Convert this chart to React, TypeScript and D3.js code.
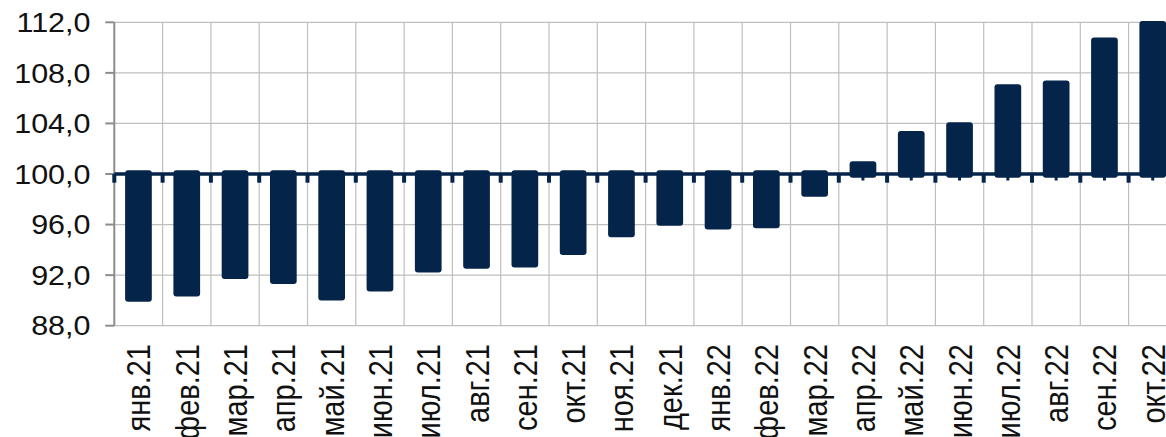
import React from 'react';
import * as d3 from 'd3';

// месяцы и индексы
const categories = [
  'янв.21', 'фев.21', 'мар.21', 'апр.21', 'май.21', 'июн.21', 'июл.21', 'авг.21',
  'сен.21', 'окт.21', 'ноя.21', 'дек.21', 'янв.22', 'фев.22', 'мар.22', 'апр.22',
  'май.22', 'июн.22', 'июл.22', 'авг.22', 'сен.22', 'окт.22'
];
const values = [
  89.9, 90.3, 91.7, 91.3, 90.0, 90.7, 92.2, 92.5,
  92.6, 93.6, 95.0, 95.9, 95.6, 95.7, 98.2, 101.0,
  103.4, 104.1, 107.1, 107.4, 110.8, 112.1
];
const yTicks = [88, 92, 96, 100, 104, 108, 112];
const baseValue = 100;

const W = 1166;
const H = 437;
const left = 114.3;
const step = 48.3;
const top = 22.3;
const bottom = 325.7;
const navy = '#05244a';
const grid = '#bfbfbf';
const axisGray = '#8c8c8c';
const font = '"Liberation Sans", Arial, sans-serif';

export default function App() {
  const x = d3.scaleBand<string>()
    .domain(categories)
    .range([left, left + step * categories.length])
    .padding(0);
  const y = d3.scaleLinear().domain([88, 112]).range([bottom, top]);
  const fmt = (v: number) => d3.format('.1f')(v).replace('.', ',');
  const barW = x.bandwidth() * 0.553;
  const y0 = y(baseValue);
  const over = 3.7;

  const boundaries = d3.range(categories.length + 1).map(i => left + i * step);

  return (
    <svg width={W} height={H} style={{ position: 'absolute', left: 0, top: 0, overflow: 'hidden' }}>
      <rect width={W} height={H} fill="#fff" />
      {/* сетка */}
      <g>
        {yTicks.map(t => (
          <line key={'h' + t} x1={left} x2={W} y1={y(t)} y2={y(t)} stroke={grid} strokeWidth={1.2} />
        ))}
        {boundaries.slice(1).map((b, i) => (
          <line key={'v' + i} x1={b} x2={b} y1={top} y2={bottom} stroke={grid} strokeWidth={1.2} />
        ))}
      </g>
      {/* ось Y */}
      <line x1={left} x2={left} y1={top} y2={bottom} stroke={axisGray} strokeWidth={2} />
      {yTicks.map(t => (
        <g key={'yt' + t}>
          <line x1={left - 9} x2={left} y1={y(t)} y2={y(t)} stroke={axisGray} strokeWidth={2} />
          <text
            transform={`translate(90.5,${y(t) + 9.7}) scale(1.13,1)`}
            textAnchor="end"
            fontFamily={font}
            fontSize={27}
            fill="#111"
          >
            {fmt(t)}
          </text>
        </g>
      ))}
      {/* засечки в центрах категорий */}
      {categories.map(c => (
        <rect key={'ct' + c} x={x(c)! + x.bandwidth() / 2 - 1.5} y={y0} width={3} height={6.5} fill={navy} />
      ))}
      {/* столбцы */}
      {categories.map((c, i) => {
        const v = values[i];
        const cx = x(c)! + x.bandwidth() / 2;
        const y1 = v < baseValue ? y0 - over : y(v);
        const y2 = v < baseValue ? y(v) : y0 + over;
        return (
          <rect key={'b' + c} x={cx - barW / 2} y={y1} width={barW} height={y2 - y1} rx={3} ry={3} fill={navy} />
        );
      })}
      {/* линия 100 */}
      <line x1={left} x2={W} y1={y0} y2={y0} stroke={navy} strokeWidth={3.4} />
      {boundaries.map((b, i) => (
        <rect key={'bt' + i} x={b - 2} y={y0} width={4} height={8.7} fill={navy} />
      ))}
      {/* подписи категорий */}
      {categories.map(c => (
        <text
          key={'xl' + c}
          transform={`translate(${x(c)! + x.bandwidth() / 2},344) scale(1.15,1) rotate(-90)`}
          textAnchor="end"
          dy="0.36em"
          fontFamily={font}
          fontSize={29}
          fill="#111"
        >
          {c}
        </text>
      ))}
    </svg>
  );
}
